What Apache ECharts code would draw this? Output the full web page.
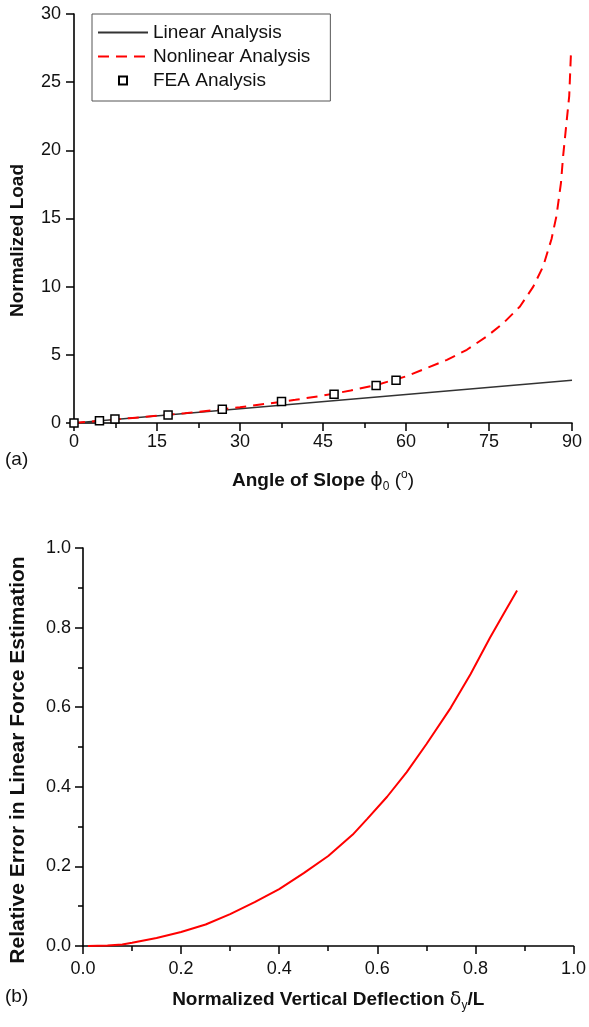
<!DOCTYPE html>
<html><head><meta charset="utf-8">
<script src="https://cdn.jsdelivr.net/npm/echarts@6/dist/echarts.min.js"></script>
<style>html,body{margin:0;padding:0;background:#fff}#c{width:589px;height:1027px}</style>
</head><body><div id="c"></div>
<script>
// ---- Panel (a): normalized load vs angle of slope ----
const angleTicks = [0, 15, 30, 45, 60, 75, 90];
const loadTicks = [0, 5, 10, 15, 20, 25, 30];
const angleLinear = [0, 90];
const loadLinear = [0, 3.14];
const angleNonlinear = [0, 5, 10, 15, 20, 25, 30, 35, 40, 45, 50, 55, 60, 63.7, 67.4, 71, 74.6, 77.6, 80.6, 83, 84.8, 86.3, 87.2, 88, 88.4, 89, 89.5, 89.8];
const loadNonlinear = [0, 0.175, 0.35, 0.53, 0.72, 0.93, 1.16, 1.42, 1.70, 2.01, 2.38, 2.83, 3.42, 4.02, 4.63, 5.37, 6.35, 7.33, 8.55, 10.0, 11.5, 13.5, 15.2, 17.6, 19.6, 22.0, 24.0, 27.0];
const angleFEA = [0, 4.6, 7.4, 17.0, 26.8, 37.5, 47.0, 54.6, 58.2];
const loadFEA = [0, 0.17, 0.29, 0.59, 1.0, 1.57, 2.11, 2.75, 3.14];
// ---- Panel (b): relative error vs normalized vertical deflection ----
const deflTicks = [0, 0.2, 0.4, 0.6, 0.8, 1.0];
const errTicks = [0, 0.2, 0.4, 0.6, 0.8, 1.0];
const deflection = [0.01, 0.05, 0.08, 0.10, 0.15, 0.20, 0.25, 0.30, 0.35, 0.40, 0.45, 0.50, 0.55, 0.58, 0.62, 0.66, 0.70, 0.75, 0.79, 0.83, 0.86, 0.885];
const relError = [0, 0.001, 0.004, 0.008, 0.02, 0.035, 0.054, 0.08, 0.11, 0.143, 0.183, 0.226, 0.28, 0.32, 0.375, 0.437, 0.507, 0.599, 0.683, 0.775, 0.84, 0.893];

const zip = (a, b) => a.map((v, i) => [v, b[i]]);
const FONT = '"Liberation Sans", Arial, Helvetica, sans-serif';
const INK = '#111';

function axisBase(ticks, opts) {
  return Object.assign({
    type: 'value',
    min: ticks[0],
    max: ticks[ticks.length - 1],
    interval: ticks[1] - ticks[0],
    axisLine: { show: true, onZero: false, lineStyle: { color: '#000', width: 1.6 } },
    axisTick: { show: true, length: 8, lineStyle: { color: '#000', width: 1.5 } },
    splitLine: { show: false },
    nameTextStyle: { fontFamily: FONT, color: INK }
  }, opts);
}
const minor = { show: true, splitNumber: 2, length: 5, lineStyle: { color: '#000', width: 1.5 } };
const tickFont = { fontSize: 18, fontFamily: FONT, color: INK, showMinLabel: true, showMaxLabel: true };

const richTitle = {
  b: { fontSize: 19, fontWeight: 'bold', fontFamily: FONT, color: INK },
  p: { fontSize: 19, fontFamily: '"DejaVu Sans", sans-serif', color: INK },
  n: { fontSize: 19, fontFamily: FONT, color: INK },
  s: { fontSize: 12, fontFamily: FONT, color: INK, padding: [12, 0, 0, 0] },
  u: { fontSize: 12, fontFamily: FONT, color: INK, padding: [0, 0, 12, 0] }
};

const chart = echarts.init(document.getElementById('c'));
chart.setOption({
  animation: false,
  backgroundColor: '#fff',
  grid: [
    { left: 74, top: 14, width: 498, height: 409 },
    { left: 81, top: 548, width: 496, height: 398 }
  ],
  xAxis: [
    axisBase(angleTicks, {
      gridIndex: 0, position: 'bottom',
      minorTick: minor,
      axisLabel: Object.assign({ margin: 10 }, tickFont),
      name: '{b|Angle of Slope }{p|ϕ}{s|0}{n| (}{u|o}{n|)}',
      nameLocation: 'middle', nameGap: 46,
      nameTextStyle: { rich: richTitle }
    }),
    axisBase(deflTicks, {
      gridIndex: 1, position: 'bottom',
      minorTick: minor,
      axisLabel: Object.assign({ margin: 14, formatter: v => v.toFixed(1) }, tickFont),
      name: '{b|Normalized Vertical Deflection }{p|δ}{s|y}{b|/L}',
      nameLocation: 'middle', nameGap: 42,
      nameTextStyle: { rich: richTitle }
    })
  ],
  yAxis: [
    axisBase(loadTicks, {
      gridIndex: 0, position: 'left',
      axisLabel: Object.assign({ margin: 13 }, tickFont),
      name: 'Normalized Load',
      nameLocation: 'middle', nameGap: 47,
      nameTextStyle: { fontSize: 19, fontWeight: 'bold', fontFamily: FONT, color: INK, padding: [0, 44, 0, 0] }
    }),
    axisBase(errTicks, {
      gridIndex: 1, position: 'left',
      minorTick: minor,
      axisLabel: Object.assign({ margin: 12, formatter: v => v.toFixed(1) }, tickFont),
      name: 'Relative Error in Linear Force Estimation',
      nameLocation: 'middle', nameGap: 54,
      nameTextStyle: { fontSize: 21, fontWeight: 'bold', fontFamily: FONT, color: INK, padding: [0, 26, 0, 0] }
    })
  ],
  legend: {
    orient: 'vertical', left: 92, top: 14,
    padding: [9, 20, 11, 5],
    itemWidth: 50, itemHeight: 10, itemGap: 5,
    borderColor: '#555', borderWidth: 1,
    textStyle: { fontSize: 19, fontFamily: FONT, color: INK, lineHeight: 19 },
    data: [
      { name: 'Linear Analysis', itemStyle: { opacity: 0 } },
      { name: 'Nonlinear Analysis', itemStyle: { opacity: 0 } },
      { name: 'FEA Analysis' }
    ]
  },
  graphic: [
    { type: 'text', left: 5, top: 450, style: { text: '(a)', fontSize: 19, fontFamily: FONT, fill: INK } },
    { type: 'text', left: 5, top: 987, style: { text: '(b)', fontSize: 19, fontFamily: FONT, fill: INK } }
  ],
  series: [
    {
      name: 'Linear Analysis', type: 'line', xAxisIndex: 0, yAxisIndex: 0,
      data: zip(angleLinear, loadLinear), symbol: 'none',
      lineStyle: { color: '#333', width: 1.6 }, itemStyle: { color: '#333' }, z: 2
    },
    {
      name: 'Nonlinear Analysis', type: 'line', xAxisIndex: 0, yAxisIndex: 0,
      data: zip(angleNonlinear, loadNonlinear), symbol: 'none', smooth: false,
      lineStyle: { color: '#ff0000', width: 2, type: [11, 7] }, itemStyle: { color: '#ff0000' }, z: 3
    },
    {
      name: 'FEA Analysis', type: 'line', xAxisIndex: 0, yAxisIndex: 0,
      data: zip(angleFEA, loadFEA), symbol: 'rect', symbolSize: 8, showSymbol: true,
      lineStyle: { width: 0, opacity: 0 },
      itemStyle: { color: '#fff', borderColor: '#000', borderWidth: 1.5 }, z: 4
    },
    {
      name: 'Relative Error', type: 'line', xAxisIndex: 1, yAxisIndex: 1,
      data: zip(deflection, relError), symbol: 'none', smooth: false,
      lineStyle: { color: '#ff0000', width: 2 }, z: 3
    }
  ]
});
</script>
</body></html>
